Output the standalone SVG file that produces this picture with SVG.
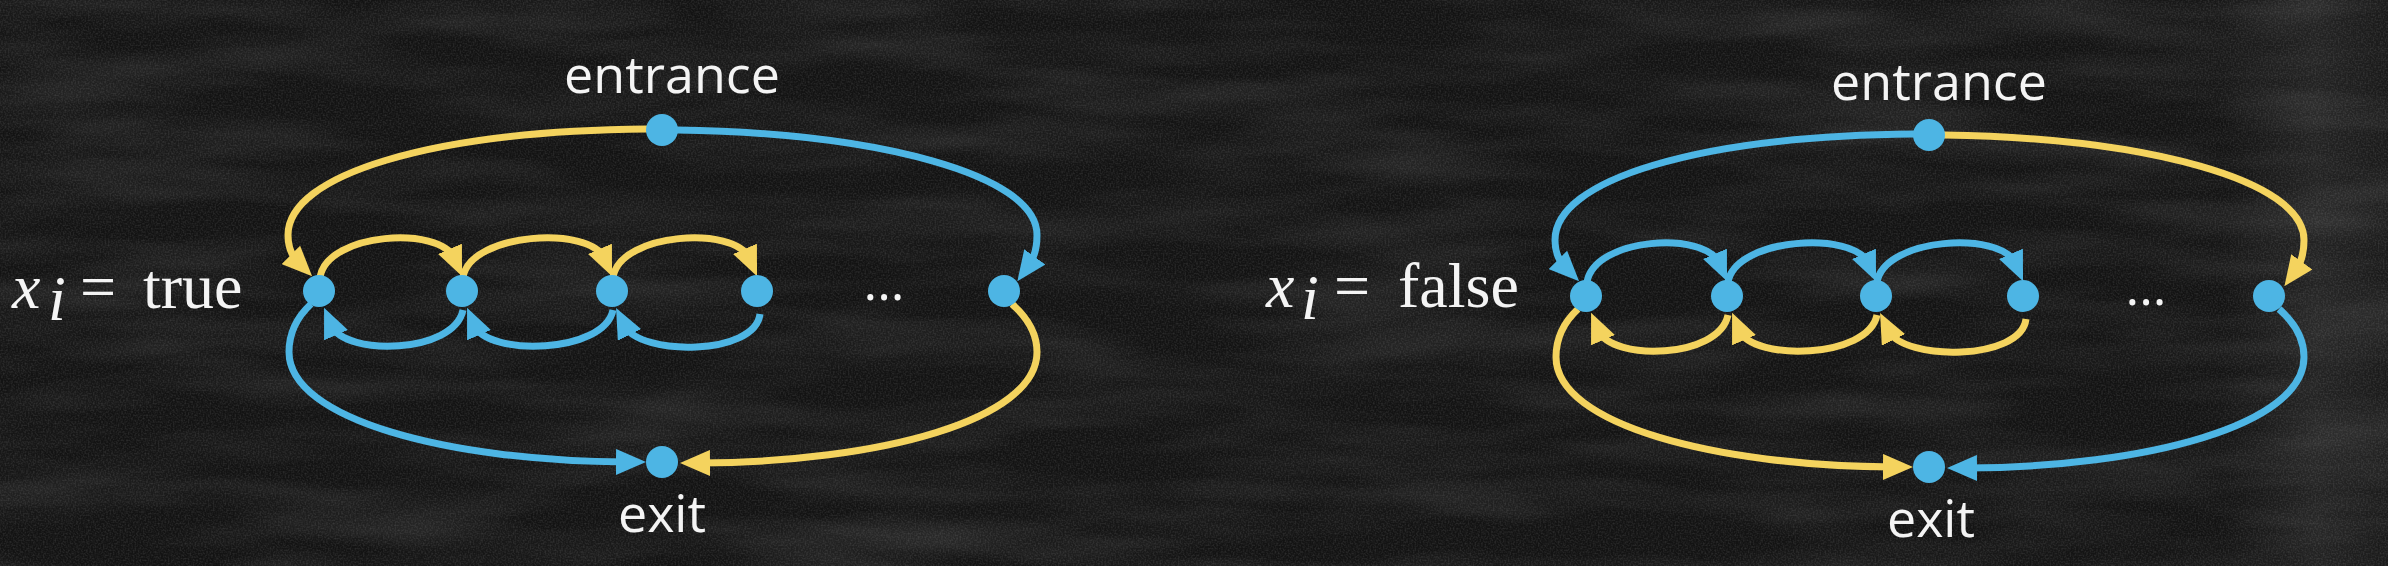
<svg xmlns="http://www.w3.org/2000/svg" width="2388" height="566" viewBox="0 0 2388 566">
<defs>
<filter id="chalk" x="0" y="0" width="100%" height="100%">
<feTurbulence type="fractalNoise" baseFrequency="0.004 0.025" numOctaves="3" seed="7" result="n"/>
<feColorMatrix in="n" type="matrix" values="0 0 0 0 1  0 0 0 0 1  0 0 0 0 1  0.18 0 0 0 -0.07" result="a"/>
<feTurbulence type="fractalNoise" baseFrequency="0.6" numOctaves="1" seed="3" result="g"/>
<feColorMatrix in="g" type="matrix" values="0 0 0 0 1  0 0 0 0 1  0 0 0 0 1  0.25 0 0 0 -0.1" result="b"/>
<feMerge><feMergeNode in="a"/><feMergeNode in="b"/></feMerge>
</filter>
<linearGradient id="edge" x1="0" y1="0" x2="1" y2="0">
<stop offset="0" stop-color="#fff" stop-opacity="0"/>
<stop offset="0.93" stop-color="#fff" stop-opacity="0"/>
<stop offset="0.97" stop-color="#fff" stop-opacity="0.07"/>
<stop offset="1" stop-color="#fff" stop-opacity="0.03"/>
</linearGradient>
<marker id="ay" viewBox="0 0 30 26" markerWidth="30" markerHeight="26" refX="10" refY="13" orient="auto" markerUnits="userSpaceOnUse"><path d="M0,0 L30,13 L0,26 Z" fill="#F4D35E"/></marker>
<marker id="ab" viewBox="0 0 30 26" markerWidth="30" markerHeight="26" refX="10" refY="13" orient="auto" markerUnits="userSpaceOnUse"><path d="M0,0 L30,13 L0,26 Z" fill="#4DB5E4"/></marker>
</defs>
<style>
.y{fill:none;stroke:#F4D35E;stroke-width:7;marker-end:url(#ay)}
.b{fill:none;stroke:#4DB5E4;stroke-width:7;marker-end:url(#ab)}
.node{fill:#4DB5E4}
.lbl{font-family:"Open Sans","DejaVu Sans",sans-serif;font-size:52px;fill:#f4f4f4;text-anchor:middle}
.math{font-family:"Liberation Serif","DejaVu Serif",serif;font-size:64px;fill:#f4f4f4}
</style>
<rect width="2388" height="566" fill="#131313"/>
<rect width="2388" height="566" filter="url(#chalk)"/>
<rect width="2388" height="566" fill="url(#edge)"/>

<!-- left: x_i = true -->
<g id="diagram-true">
<g id="label-true">
<text class="math" x="12" y="308" font-size="72" font-style="italic">x</text>
<text class="math" x="48" y="320" font-size="44" font-style="italic">i</text>
<text class="math" x="80" y="308" font-size="72">=</text>
<text class="math" x="143" y="308">true</text>
</g>
<g id="connectors-true">
<path class="y" d="M647 129 C430 131 288 175 288 235 C288 248 292 256 298 262"/>
<path class="b" d="M677 130 C880 133 1037 175 1037 235 C1037 250 1034 258 1029 265"/>
<path class="y" d="M1012 304 C1028 318 1037 333 1037 352 C1037 420 880 462 700 463"/>
<path class="b" d="M311 304 C296 318 289 333 289 352 C289 420 450 461 626 462"/>
<path class="y" d="M320 277 C328 232 440 226 454 258"/>
<path class="y" d="M463 277 C471 232 590 226 604 258"/>
<path class="y" d="M613 277 C621 232 735 226 749 258"/>
<path class="b" d="M463 310 C454 354 345 356 332 326"/>
<path class="b" d="M613 310 C604 354 488 356 475 326"/>
<path class="b" d="M760 314 C755 356 640 356 625 326"/>
</g>
<g id="t-entrance"><circle class="node" cx="662" cy="130" r="16"/><text class="lbl" x="672" y="93">entrance</text></g>
<g id="t-exit"><circle class="node" cx="662" cy="462" r="16"/><text class="lbl" x="662" y="532">exit</text></g>
<g id="t-n1"><circle class="node" cx="319" cy="291" r="16"/></g>
<g id="t-n2"><circle class="node" cx="462" cy="291" r="16"/></g>
<g id="t-n3"><circle class="node" cx="612" cy="291" r="16"/></g>
<g id="t-n4"><circle class="node" cx="757" cy="291" r="16"/></g>
<g id="t-dots"><text class="lbl" x="884" y="300">...</text></g>
<g id="t-nlast"><circle class="node" cx="1004" cy="291" r="16"/></g>
</g>

<!-- right: x_i = false -->
<g id="label-false">
<text class="math" x="1266" y="307" font-size="72" font-style="italic">x</text>
<text class="math" x="1301" y="319" font-size="44" font-style="italic">i</text>
<text class="math" x="1334" y="307" font-size="72">=</text>
<text class="math" x="1398" y="307">false</text>
</g>
<g id="diagram-false" transform="translate(1267,5)">
<g id="connectors-false">
<path class="b" d="M647 129 C430 131 288 175 288 235 C288 248 292 256 298 262"/>
<path class="y" d="M677 130 C880 133 1037 175 1037 235 C1037 250 1034 258 1029 265"/>
<path class="b" d="M1012 304 C1028 318 1037 333 1037 352 C1037 420 880 462 700 463"/>
<path class="y" d="M311 304 C296 318 289 333 289 352 C289 420 450 461 626 462"/>
<path class="b" d="M320 277 C328 232 438 226 452 258"/>
<path class="b" d="M461 277 C469 232 587 226 601 258"/>
<path class="b" d="M610 277 C618 232 734 226 748 258"/>
<path class="y" d="M461 310 C452 354 345 356 332 326"/>
<path class="y" d="M610 310 C601 354 486 356 473 326"/>
<path class="y" d="M759 314 C754 356 637 356 622 326"/>
</g>
<g id="f-entrance"><circle class="node" cx="662" cy="130" r="16"/><text class="lbl" x="672" y="95">entrance</text></g>
<g id="f-exit"><circle class="node" cx="662" cy="462" r="16"/><text class="lbl" x="664" y="532">exit</text></g>
<g id="f-n1"><circle class="node" cx="319" cy="291" r="16"/></g>
<g id="f-n2"><circle class="node" cx="460" cy="291" r="16"/></g>
<g id="f-n3"><circle class="node" cx="609" cy="291" r="16"/></g>
<g id="f-n4"><circle class="node" cx="756" cy="291" r="16"/></g>
<g id="f-dots"><text class="lbl" x="879" y="300">...</text></g>
<g id="f-nlast"><circle class="node" cx="1002" cy="291" r="16"/></g>
</g>
</svg>
